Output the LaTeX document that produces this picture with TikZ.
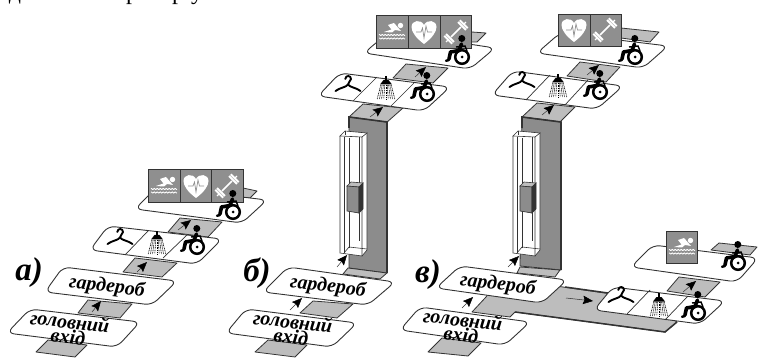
\documentclass[tikz,border=0pt]{standalone}
\usepackage{fontspec}
\setmainfont{Liberation Serif}
\usetikzlibrary{arrows.meta}
\definecolor{stripc}{gray}{0.74}
\definecolor{wallc}{gray}{0.55}
\definecolor{edgec}{gray}{0.2}
\definecolor{iconc}{gray}{0.56}
\tikzset{
 platform/.style={draw=edgec,line width=0.9pt,fill=white,rounded corners=7pt},
 strip/.style={draw=edgec,line width=0.8pt,fill=stripc,line join=round},
 divider/.style={draw=edgec,line width=0.7pt},
 wall/.style={draw=edgec,line width=0.8pt,fill=wallc},
 shaftline/.style={draw=edgec,line width=0.6pt},
 walk/.style={draw=edgec,line width=0.5pt,-{Stealth[length=10pt,width=8.5pt,inset=1.5pt,color=black]}},
 lbl/.style={font=\fontsize{20}{14}\selectfont\bfseries\itshape,align=center,inner sep=0pt},
 letter/.style={font=\fontsize{33}{33}\selectfont\bfseries\itshape,inner sep=0pt},
 top/.style={font=\fontsize{24}{24}\selectfont,inner sep=0pt,anchor=base},
 wheelch/.pic={
  \draw[black,line width=2.5pt,fill=white] (0,0) circle (6.8);
  \fill[black] (0,0) circle (1.5);
  \fill[black] (-0.2,-18.5) circle (3.5);
  \draw[black,line width=3.6pt,line join=round,line cap=round] (-0.5,-13) -- (-3,-6.5) -- (-11.5,-5) -- (-13,2);
  \draw[black,line width=2.4pt,line cap=round] (-13,3) -- (-16,3.8);
  \draw[black,line width=1.4pt] (-6,-10) -- (3,-11) -- (5,-6);
 },
 hanger/.pic={
  \draw[black,line width=1.9pt,line cap=round,line join=round] (-2.7,-8) .. controls (-2.5,-12) and (3,-12) .. (3,-8) .. controls (3,-5.5) and (0,-5.5) .. (0,-2.5) .. controls (-2,0.5) and (-8,0.5) .. (-12.5,4);
  \draw[black,line width=1.9pt,line cap=round] (0,-2.5) .. controls (2,0.5) and (8,0.5) .. (12.5,4);
 },
 shower/.pic={
  \draw[black,line width=1.5pt] (0,-14) -- (0,-9);
  \fill[black] (-2.5,-10) -- (2.5,-10) -- (6,-5.5) -- (-6,-5.5) -- cycle;
  \foreach \k in {-4,...,4}
   \draw[black,line width=0.6pt,dash pattern=on 1pt off 0.7pt] ({\k*1.3},-5) -- ({\k*2.2},9);
 },
 iconbox/.pic={
  \draw[draw=edgec,line width=0.9pt,fill=iconc] (0,0) rectangle (31.7,32.7);
 },
 swimmer/.pic={
  \fill[white] (8.5,-6.5) circle (2.7);
  \fill[white] (-8,0) -- (-0.5,-2.5) -- (-4,-7) -- (2,-9) -- (9,-1) -- (3,-2) -- (0,0.5) -- cycle;
  \foreach \w in {3,6.5}
   \draw[white,line width=0.8pt] plot[domain=-13:13,samples=40] (\x,{\w+0.6*sin(\x*120)});
 },
 heart/.pic={
  \fill[white] (0,12) .. controls (-8,6) and (-12.5,0) .. (-12.5,-5) .. controls (-12.5,-12) and (-3,-13) .. (0,-7) .. controls (3,-13) and (12.5,-12) .. (12.5,-5) .. controls (12.5,0) and (8,6) .. (0,12) -- cycle;
  \draw[iconc,line width=0.7pt] (-8,0) -- (-3,0) -- (-1.5,-4) -- (0,6) -- (2,-6) -- (3.5,0) -- (8,0);
 },
 barbell/.pic={
  \begin{scope}[rotate=45]
   \draw[white,line width=1.6pt] (-7,0) -- (7,0);
   \foreach \q in {-11,-8.5,8.5,11}
    \draw[white,line width=2pt] (\q,-5.5) -- (\q,5.5);
   \draw[white,line width=1.2pt] (-14,0) -- (-11,0) (11,0) -- (14,0);
  \end{scope}
 }
}
\newcommand\strp[4]{\draw[strip] (#1) -- (#2) -- (#3) -- (#4) -- cycle;}
\newcommand\plat[4]{\draw[platform] (#1) -- (#2) -- (#3) -- (#4) -- cycle;}
\newcommand\walkarrow[3]{\coordinate (#1s) at (#2); \coordinate (#1e) at (#3); \draw[walk] (#1s) -- (#1e);}
\newcommand\shaft[1]{
 \begin{scope}[shift={(#1,0)}]
  \fill[white] (0,136) -- (5,131) -- (27,133) -- (27,250) -- (22,256) -- (0,253) -- cycle;
  \draw[shaftline] (0,136) -- (5,131) -- (27,133) -- (22,137) -- cycle;
  \draw[shaftline] (0,136) -- (0,253) -- (22,256) -- (22,137);
  \draw[shaftline] (27,133) -- (27,250) -- (22,256);
  \draw[shaftline] (4,137) -- (4,253.5) (9,138) -- (9,248) (19,137) -- (19,241);
  \draw[shaftline] (5,131) -- (5,135);
  \draw[shaftline] (4,253) -- (9,247) -- (27,249);
  \fill[wallc] (7,186) -- (19,187) -- (19,213) -- (7,211) -- cycle;
  \draw[shaftline,fill=stripc] (7,186) -- (11,182) -- (23,183) -- (19,187) -- cycle;
  \draw[shaftline,fill=wallc] (7,186) -- (19,187) -- (19,213) -- (7,211) -- cycle;
  \draw[shaftline,fill=edgec] (19,187) -- (23,183) -- (23,209) -- (19,213) -- cycle;
 \end{scope}
}
\begin{document}
\begin{tikzpicture}[x=1pt,y=-1pt]
\useasboundingbox (0,0) rectangle (758,358);
\fill[white] (0,0) rectangle (758,358);
% top text cut by the page edge
\node[top] (t1) at (15,0) {д};
\node[top] (t2) at (132,0) {р};
\node[top] (t3) at (178,0) {р};
\node[top] (t4) at (197,0) {у};
% ---- a
\strp{36,352}{48,340}{87,345}{75,357}
\strp{78,313}{88,300}{132,304}{120,318}
\strp{123,272}{135,258}{177,263}{162,277}
\strp{168,232}{180,218}{222,222}{208,237}
\strp{243,188}{257,191}{250,198}{240,197}
\plat{30,309}{140,322}{117,347}{7,333}
\plat{63,267}{177,281}{152,305}{45,292}
\plat{108,226}{222,239}{197,264}{90,250}
\draw[divider] (148,231) -- (125,255) (187,235) -- (163,258);
\plat{157,187}{267,200}{242,223}{135,209}
\walkarrow{a1}{92,312}{101,301}
\walkarrow{a2}{137,272}{147,262}
\walkarrow{a3}{178,230}{191,220}
\pic at (148.3,169.5) {iconbox};
\pic at (180,169.5) {iconbox};
\pic at (211.7,169.5) {iconbox};
\pic at (164,186) {swimmer};
\pic at (196,186) {heart};
\pic at (227,186) {barbell};
\pic at (233,212) {wheelch};
\pic at (120,240) {hanger};
\pic at (157,245) {shower};
\pic at (197,247) {wheelch};
\node[lbl,rotate=-6.5] (a-gard) at (107,287) {гардероб};
\node[lbl,rotate=-6.5] (a-entr) at (69,329) {головний\\вхід};
\node[letter] (a-let) at (29,273) {а)};
% ---- b
\strp{255,352}{268,340}{307,345}{295,357}
\strp{300,313}{313,301}{353,304}{337,318}
\strp{349,117}{363,104}{403,108}{386,123}
\draw[wall] (349,117) -- (387,122) -- (387,273) -- (349,268) -- cycle;
\draw[edgec,line width=1.6pt] (349,128) -- (349,117) -- (387,122) -- (387,273);
\draw[strip] (348,268) -- (387,273) -- (380,279) -- (343,274) -- cycle;
\shaft{340}
\strp{393,78}{406,64}{448,68}{433,83}
\strp{472,32}{486,33}{477,42}{466,42}
\plat{340,73}{450,87}{424,111}{318,96}
\draw[divider] (377,77) -- (353,101) (415,82) -- (391,106);
\plat{389,32}{495,48}{470,69}{364,53}
\plat{288,267}{395,282}{368,305}{263,292}
\plat{246,309}{357,323}{332,347}{226,333}
\walkarrow{b1}{290,310}{302,298}
\walkarrow{b2}{337,267}{347,255}
\walkarrow{b3}{370,117}{383,107}
\walkarrow{b4}{415,77}{426,67}
\pic at (376.7,15.7) {iconbox};
\pic at (408.3,15.7) {iconbox};
\pic at (440,15.7) {iconbox};
\pic at (392,32) {swimmer};
\pic at (424,32) {heart};
\pic at (456,32) {barbell};
\pic at (462,57) {wheelch};
\pic at (348,87) {hanger};
\pic at (386,90) {shower};
\pic at (427,94) {wheelch};
\node[lbl,rotate=-6.5] (b-gard) at (328,287) {гардероб};
\node[lbl,rotate=-6.5] (b-entr) at (292,329) {головний\\вхід};
\node[letter] (b-let) at (257,273) {б)};
% ---- c
\strp{428,352}{442,338}{481,343}{468,356}
\draw[strip] (472,312) -- (486,297) -- (500,278) -- (640,298) -- (677,322) -- (665,332) -- (515,312) -- (510,317) -- cycle;
\draw[edgec,line width=1.5pt] (565,287) -- (608,293);
\draw[edgec,line width=1.5pt] (515,312) -- (665,332) -- (677,322);
\strp{522,117}{537,103}{575,107}{560,122}
\draw[wall] (522,117) -- (561,122) -- (561,270) -- (520,266) -- cycle;
\draw[edgec,line width=1.6pt] (522,128) -- (522,117) -- (561,122) -- (561,270);
\draw[strip] (520,267) -- (560,270) -- (555,277) -- (517,273) -- cycle;
\shaft{513}
\strp{567,76}{580,62}{620,67}{606,82}
\strp{621,28}{659,32}{650,42}{621,38}
\plat{513,71}{623,86}{597,109}{492,95}
\draw[divider] (550,75) -- (526,100) (588,80) -- (565,105);
\plat{560,33}{668,46}{643,68}{537,53}
\plat{460,266}{567,280}{542,303}{436,288}
\plat{420,307}{530,322}{505,345}{400,330}
\strp{667,291}{679,277}{720,282}{705,297}
\strp{711,250}{719,243}{757,247}{750,255}
\plat{613,287}{725,301}{700,324}{594,310}
\draw[divider] (650,290) -- (627,314) (688,296) -- (665,320);
\plat{653,245}{758,258}{737,282}{631,267}
\walkarrow{c1}{462,308}{473,297}
\walkarrow{c2}{508,267}{519,256}
\walkarrow{c3}{566,298}{593,301}
\walkarrow{c4}{542,115}{554,105}
\walkarrow{c5}{587,75}{599,65}
\walkarrow{c6}{683,292}{696,281}
\pic at (558.3,14) {iconbox};
\pic at (590,14) {iconbox};
\pic at (574,30) {heart};
\pic at (605,30) {barbell};
\pic at (635,57) {wheelch};
\pic at (522,83) {hanger};
\pic at (558,88) {shower};
\pic at (600,92) {wheelch};
\pic at (666,231) {iconbox};
\pic at (682,247) {swimmer};
\pic at (738,263) {wheelch};
\pic at (621,298) {hanger};
\pic at (659,307) {shower};
\pic at (698,313) {wheelch};
\node[lbl,rotate=-6.5] (c-gard) at (498,285) {гардероб};
\node[lbl,rotate=-6.5] (c-entr) at (462,327) {головний\\вхід};
\node[letter] (c-let) at (428,275) {в)};
\end{tikzpicture}
\end{document}
